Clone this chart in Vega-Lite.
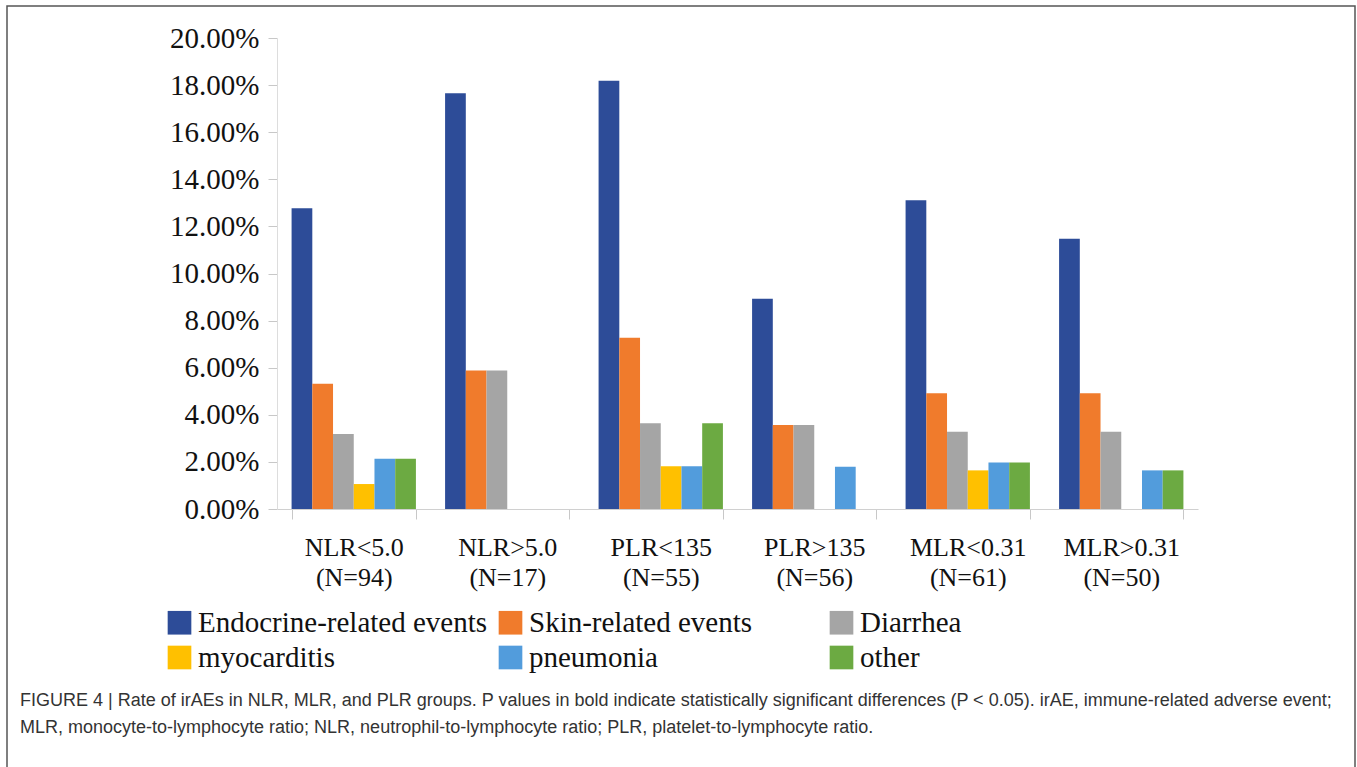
{
  "$schema": "https://vega.github.io/schema/vega-lite/v6.json",
  "autosize": {"type": "none"},
  "padding": {"left": 7, "top": 6, "right": 2, "bottom": 0},
  "width": 1348,
  "height": 800,
  "background": "white",
  "title": {
    "text": ["FIGURE 4 | Rate of irAEs in NLR, MLR, and PLR groups. P values in bold indicate statistically significant differences (P < 0.05). irAE, immune-related adverse event;", "MLR, monocyte-to-lymphocyte ratio; NLR, neutrophil-to-lymphocyte ratio; PLR, platelet-to-lymphocyte ratio."],
    "orient": "bottom",
    "anchor": "start",
    "frame": "group",
    "baseline": "top",
    "offset": -114,
    "dx": 13,
    "font": "Liberation Sans",
    "fontSize": 18,
    "fontWeight": "normal",
    "color": "#333333",
    "lineHeight": 27
  },
  "config": {
    "view": {"stroke": "#555555", "strokeWidth": 1.5},
    "font": "Liberation Serif"
  },
  "data": {
    "values": [
      {"group": "NLR<5.0 (N=94)", "event": "Endocrine-related events", "rate": 12.77},
      {"group": "NLR<5.0 (N=94)", "event": "Skin-related events", "rate": 5.32},
      {"group": "NLR<5.0 (N=94)", "event": "Diarrhea", "rate": 3.19},
      {"group": "NLR<5.0 (N=94)", "event": "myocarditis", "rate": 1.06},
      {"group": "NLR<5.0 (N=94)", "event": "pneumonia", "rate": 2.13},
      {"group": "NLR<5.0 (N=94)", "event": "other", "rate": 2.13},
      {"group": "NLR>5.0 (N=17)", "event": "Endocrine-related events", "rate": 17.65},
      {"group": "NLR>5.0 (N=17)", "event": "Skin-related events", "rate": 5.88},
      {"group": "NLR>5.0 (N=17)", "event": "Diarrhea", "rate": 5.88},
      {"group": "PLR<135 (N=55)", "event": "Endocrine-related events", "rate": 18.18},
      {"group": "PLR<135 (N=55)", "event": "Skin-related events", "rate": 7.27},
      {"group": "PLR<135 (N=55)", "event": "Diarrhea", "rate": 3.64},
      {"group": "PLR<135 (N=55)", "event": "myocarditis", "rate": 1.82},
      {"group": "PLR<135 (N=55)", "event": "pneumonia", "rate": 1.82},
      {"group": "PLR<135 (N=55)", "event": "other", "rate": 3.64},
      {"group": "PLR>135 (N=56)", "event": "Endocrine-related events", "rate": 8.93},
      {"group": "PLR>135 (N=56)", "event": "Skin-related events", "rate": 3.57},
      {"group": "PLR>135 (N=56)", "event": "Diarrhea", "rate": 3.57},
      {"group": "PLR>135 (N=56)", "event": "pneumonia", "rate": 1.79},
      {"group": "MLR<0.31 (N=61)", "event": "Endocrine-related events", "rate": 13.11},
      {"group": "MLR<0.31 (N=61)", "event": "Skin-related events", "rate": 4.92},
      {"group": "MLR<0.31 (N=61)", "event": "Diarrhea", "rate": 3.28},
      {"group": "MLR<0.31 (N=61)", "event": "myocarditis", "rate": 1.64},
      {"group": "MLR<0.31 (N=61)", "event": "pneumonia", "rate": 1.97},
      {"group": "MLR<0.31 (N=61)", "event": "other", "rate": 1.97},
      {"group": "MLR>0.31 (N=50)", "event": "Endocrine-related events", "rate": 11.48},
      {"group": "MLR>0.31 (N=50)", "event": "Skin-related events", "rate": 4.92},
      {"group": "MLR>0.31 (N=50)", "event": "Diarrhea", "rate": 3.28},
      {"group": "MLR>0.31 (N=50)", "event": "pneumonia", "rate": 1.64},
      {"group": "MLR>0.31 (N=50)", "event": "other", "rate": 1.64}
    ]
  },
  "mark": {"type": "bar"},
  "encoding": {
    "x": {
      "field": "group",
      "type": "nominal",
      "scale": {
        "domain": ["NLR<5.0 (N=94)", "NLR>5.0 (N=17)", "PLR<135 (N=55)", "PLR>135 (N=56)", "MLR<0.31 (N=61)", "MLR>0.31 (N=50)"],
        "range": [270, 1191],
        "paddingInner": 0.19,
        "paddingOuter": 0.095
      },
      "axis": {
        "title": null,
        "offset": -297,
        "labelAngle": 0,
        "labelExpr": "split(datum.label, ' ')",
        "labelFont": "Liberation Serif",
        "labelFontSize": 26,
        "labelColor": "#111111",
        "labelLineHeight": 30,
        "labelPadding": 15,
        "labelBaseline": "top",
        "tickBand": "extent",
        "tickSize": 10,
        "tickColor": "#C8C8C8",
        "domainColor": "#D0D0D0",
        "domainWidth": 1.2,
        "grid": false
      }
    },
    "xOffset": {
      "field": "event",
      "type": "nominal",
      "scale": {
        "domain": ["Endocrine-related events", "Skin-related events", "Diarrhea", "myocarditis", "pneumonia", "other"],
        "paddingInner": 0,
        "paddingOuter": 0
      }
    },
    "y": {
      "field": "rate",
      "type": "quantitative",
      "scale": {"domain": [0, 20], "range": [503, 32], "nice": false},
      "axis": {
        "title": null,
        "offset": -270,
        "values": [0, 2, 4, 6, 8, 10, 12, 14, 16, 18, 20],
        "labelExpr": "format(datum.value, '.2f') + '%'",
        "labelFont": "Liberation Serif",
        "labelFontSize": 29,
        "labelColor": "#111111",
        "labelPadding": 9,
        "tickSize": 9,
        "tickColor": "#C8C8C8",
        "domainColor": "#DDDDDD",
        "grid": false
      }
    },
    "color": {
      "field": "event",
      "type": "nominal",
      "scale": {
        "domain": ["Endocrine-related events", "Skin-related events", "Diarrhea", "myocarditis", "pneumonia", "other"],
        "range": ["#2D4C98", "#F07B2C", "#A5A5A5", "#FFC000", "#529CDC", "#6CAA42"]
      },
      "legend": {
        "title": null,
        "orient": "none",
        "legendX": 158,
        "legendY": 602,
        "direction": "horizontal",
        "columns": 3,
        "gridAlign": "all",
        "symbolType": "square",
        "symbolSize": 560,
        "symbolStrokeWidth": 0,
        "symbolOpacity": 1,
        "labelFont": "Liberation Serif",
        "labelFontSize": 29,
        "labelColor": "#111111",
        "labelOffset": 4,
        "labelLimit": 400,
        "columnPadding": 8,
        "rowPadding": 5
      }
    }
  }
}
